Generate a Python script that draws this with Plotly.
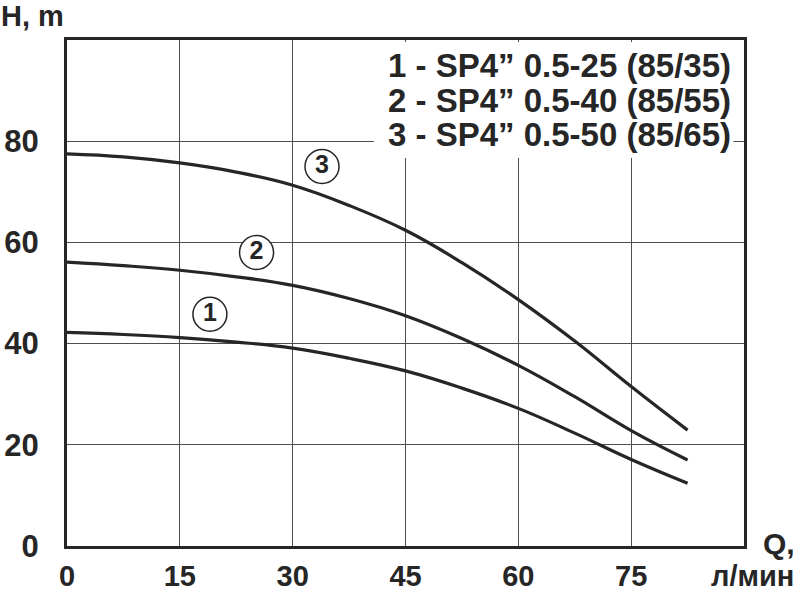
import plotly.graph_objects as go

# ---- data ----
q = [0, 7.5, 15, 22.5, 30, 37.5, 45, 52.5, 60, 67.5, 75, 82.5]
h1 = [42.2, 41.8, 41.2, 40.3, 39.1, 37.1, 34.6, 31.2, 27.2, 22.3, 17.1, 12.4]
h2 = [56.1, 55.4, 54.5, 53.2, 51.5, 48.9, 45.5, 41.0, 35.7, 29.5, 22.8, 17.0]
h3 = [77.5, 76.9, 75.7, 73.9, 71.3, 67.3, 62.4, 56.0, 48.7, 40.5, 31.5, 22.9]

label_q = [19.0, 25.2, 33.9]
label_h = [45.8, 58.0, 75.0]
label_text = ["1", "2", "3"]

legend_lines = [
    "1 - SP4\u201d 0.5-25 (85/35)",
    "2 - SP4\u201d 0.5-40 (85/55)",
    "3 - SP4\u201d 0.5-50 (85/65)",
]
legend_h = [94.9, 88.0, 81.3]

x_ticks = [0, 15, 30, 45, 60, 75]
y_ticks = [0, 20, 40, 60, 80]

FONT = "Liberation Sans, Arial, sans-serif"
DARK = "#262626"

fig = go.Figure()
for h in (h1, h2, h3):
    fig.add_trace(go.Scatter(x=q, y=h, mode="lines",
                             line=dict(color=DARK, width=3.2, shape="spline", smoothing=1.2),
                             hoverinfo="skip", showlegend=False))

fig.add_trace(go.Scatter(x=label_q, y=label_h, mode="markers+text", text=label_text,
                         textposition="middle center",
                         marker=dict(symbol="circle", size=34, color="white",
                                     line=dict(color=DARK, width=1.5)),
                         textfont=dict(family=FONT, size=25, color=DARK, weight="bold"),
                         hoverinfo="skip", showlegend=False))

# white box behind the legend text
fig.add_shape(type="rect", xref="x", yref="y", x0=40.8, x1=88.6, y0=76.7, y1=99.6,
              fillcolor="white", line=dict(width=0), layer="between")

for txt, yy in zip(legend_lines, legend_h):
    fig.add_annotation(x=88.6, y=yy, xref="x", yref="y", text=txt, showarrow=False,
                       xanchor="right", yanchor="middle",
                       font=dict(family=FONT, size=33, color=DARK, weight="bold"))

# axis titles
fig.add_annotation(x=0, y=1, xref="paper", yref="paper", text="H, m", showarrow=False,
                   xanchor="left", yanchor="bottom", xshift=-68, yshift=6,
                   font=dict(family=FONT, size=29, color=DARK, weight="bold"))
fig.add_annotation(x=1, y=0, xref="paper", yref="paper", text="Q,", showarrow=False,
                   xanchor="left", yanchor="middle", xshift=17, yshift=3,
                   font=dict(family=FONT, size=30, color=DARK, weight="bold"))
fig.add_annotation(x=1, y=0, xref="paper", yref="paper", text="л/мин", showarrow=False,
                   xanchor="right", yanchor="middle", xshift=52, yshift=-30,
                   font=dict(family=FONT, size=29, color=DARK, weight="bold"))

axis_common = dict(showline=True, linewidth=3.2, linecolor=DARK, mirror=True,
                   showgrid=True, gridcolor="#4d4d4d", gridwidth=1.3, zeroline=False,
                   ticks="outside", tickcolor="rgba(0,0,0,0)", automargin=False,
                   fixedrange=True)

fig.update_xaxes(range=[0, 90], tickvals=x_ticks, ticktext=[str(v) for v in x_ticks],
                 ticklen=2, tickfont=dict(family=FONT, size=29, color=DARK, weight="bold"),
                 **axis_common)
fig.update_yaxes(range=[0, 100], tickvals=y_ticks, ticktext=[str(v) for v in y_ticks],
                 ticklen=19, tickfont=dict(family=FONT, size=31, color=DARK, weight="bold"),
                 **axis_common)

fig.update_layout(width=800, height=591, margin=dict(l=67, r=56, t=40, b=45),
                  paper_bgcolor="white", plot_bgcolor="white", showlegend=False)

fig.write_html("out.html", config={"displayModeBar": False},
               post_script="document.body.style.margin='0';document.body.style.overflow='hidden';")
